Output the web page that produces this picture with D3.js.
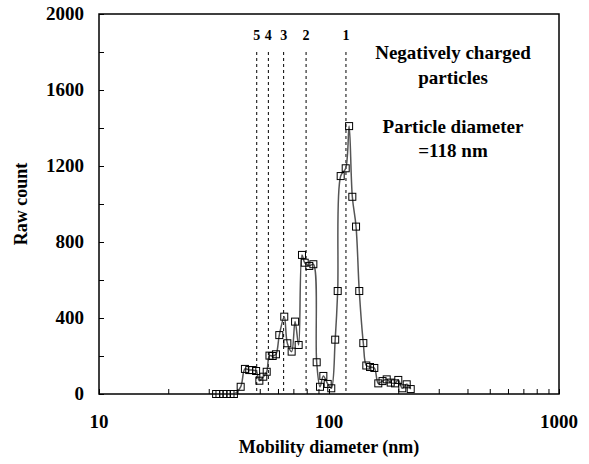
<!DOCTYPE html>
<html>
<head>
<meta charset="utf-8">
<script src="https://cdn.jsdelivr.net/npm/d3@7"></script>
<style>
  body { margin: 0; background: #fff; }
  text { font-family: "Liberation Serif", "Times New Roman", serif; font-weight: bold; fill: #000; }
</style>
</head>
<body>
<svg id="chart" width="589" height="464"></svg>
<script>
// mobility diameter (nm) of each SMPS channel
var diameters = [32.3, 33.4, 34.7, 35.9, 37.3, 38.6, 41.3, 43.1, 45.0, 46.4,
  48.2, 49.8, 51.8, 53.6, 55.1, 56.9, 58.8, 60.8, 63.9, 65.9,
  68.8, 71.2, 73.8, 76.3, 78.4, 82.1, 85.5, 88.4, 91.4, 94.5,
  98.7, 102.3, 106.4, 109.1, 112.4, 118.2, 122.3, 126.3, 131.1, 135.4,
  141.0, 145.3, 150.8, 157.4, 163.8, 170.9, 178.2, 185.5, 193.6, 200.1,
  208.3, 217.7, 226.6];
var rawCounts = [0, 0, 0, 0, 0, 0, 38, 132, 126, 126,
  121, 70, 91, 117, 202, 200, 209, 310, 407, 267,
  223, 381, 258, 732, 691, 674, 683, 167, 38, 95,
  53, 30, 286, 542, 1147, 1188, 1410, 1038, 881, 542,
  268, 150, 142, 137, 56, 68, 77, 60, 56, 74,
  30, 51, 26];

// multiply charged positions (charge number -> diameter)
var chargeLabels = ["5", "4", "3", "2", "1"];
var chargeDiameters = [48.5, 54.5, 63.5, 79.5, 118.5];

var yTicks = [0, 400, 800, 1200, 1600, 2000];
var xTickLabels = [10, 100, 1000];
var noteLines = ["Negatively charged", "particles", "", "Particle diameter", "=118 nm"];

var data = diameters.map((d, i) => ({d: d, v: rawCounts[i]}));

var margin = {top: 14, right: 30, bottom: 70, left: 99};
var svg = d3.select("#chart");
var width = +svg.attr("width") - margin.left - margin.right;
var height = +svg.attr("height") - margin.top - margin.bottom;
var g = svg.append("g").attr("transform", `translate(${margin.left}, ${margin.top})`);

var x = d3.scaleLog().domain([10, 1000]).range([0, width]);
var y = d3.scaleLinear().domain([0, 2000]).range([height, 0]);

// minor ticks every 1..9 per decade, every 200 counts
var xMinor = [];
[10, 100].forEach(dec => { for (var k = 1; k <= 9; k++) xMinor.push(dec * k); });
xMinor.push(1000);
var yMinor = d3.range(0, 2001, 200);

// frame
g.append("rect")
  .attr("width", width).attr("height", height)
  .attr("fill", "none").attr("stroke", "#000").attr("stroke-width", 1.5);

// inward ticks
g.append("g").attr("transform", `translate(0, ${height})`)
  .call(d3.axisBottom(x).tickValues(xMinor).tickSizeInner(-5).tickSizeOuter(0).tickFormat(""))
  .call(a => a.select(".domain").remove())
  .call(a => a.selectAll("line").attr("stroke", "#000"));
g.append("g")
  .call(d3.axisLeft(y).tickValues(yMinor).tickSizeInner(-5).tickSizeOuter(0).tickFormat(""))
  .call(a => a.select(".domain").remove())
  .call(a => a.selectAll("line").attr("stroke", "#000"));

// tick labels
g.selectAll(".ylab").data(yTicks).enter().append("text")
  .attr("x", -15).attr("y", d => y(d) + 6)
  .attr("text-anchor", "end").attr("font-size", 19)
  .text(d => d);
g.selectAll(".xlab").data(xTickLabels).enter().append("text")
  .attr("x", d => x(d)).attr("y", height + 34)
  .attr("text-anchor", "middle").attr("font-size", 19)
  .text(d => d);

// axis titles
g.append("text")
  .attr("x", width / 2).attr("y", height + 59)
  .attr("text-anchor", "middle").attr("font-size", 18)
  .text("Mobility diameter (nm)");
g.append("text")
  .attr("transform", `translate(${-72}, ${height / 2}) rotate(-90)`)
  .attr("text-anchor", "middle").attr("font-size", 18)
  .text("Raw count");

// dashed lines for charge states
g.selectAll(".charge").data(chargeDiameters).enter().append("line")
  .attr("x1", d => x(d)).attr("x2", d => x(d))
  .attr("y1", 38).attr("y2", height)
  .attr("stroke", "#000").attr("stroke-width", 1)
  .attr("stroke-dasharray", "3,3");
g.selectAll(".chargeLab").data(chargeDiameters).enter().append("text")
  .attr("x", d => x(d)).attr("y", 26)
  .attr("text-anchor", "middle").attr("font-size", 14)
  .text((d, i) => chargeLabels[i]);

// smoothed line + open square markers
var line = d3.line()
  .x(d => x(d.d))
  .y(d => y(d.v))
  .curve(d3.curveCatmullRom.alpha(0.5));

g.append("path")
  .datum(data)
  .attr("fill", "none")
  .attr("stroke", "#555")
  .attr("stroke-width", 1.5)
  .attr("d", line);

g.selectAll(".pt").data(data).enter().append("rect")
  .attr("x", d => x(d.d) - 3.5).attr("y", d => y(d.v) - 3.5)
  .attr("width", 7).attr("height", 7)
  .attr("fill", "none").attr("stroke", "#000").attr("stroke-width", 1);

// annotation
g.selectAll(".note").data(noteLines).enter().append("text")
  .attr("x", 354).attr("y", (d, i) => 45 + i * 24.5)
  .attr("text-anchor", "middle").attr("font-size", 19)
  .text(d => d);
</script>
</body>
</html>
